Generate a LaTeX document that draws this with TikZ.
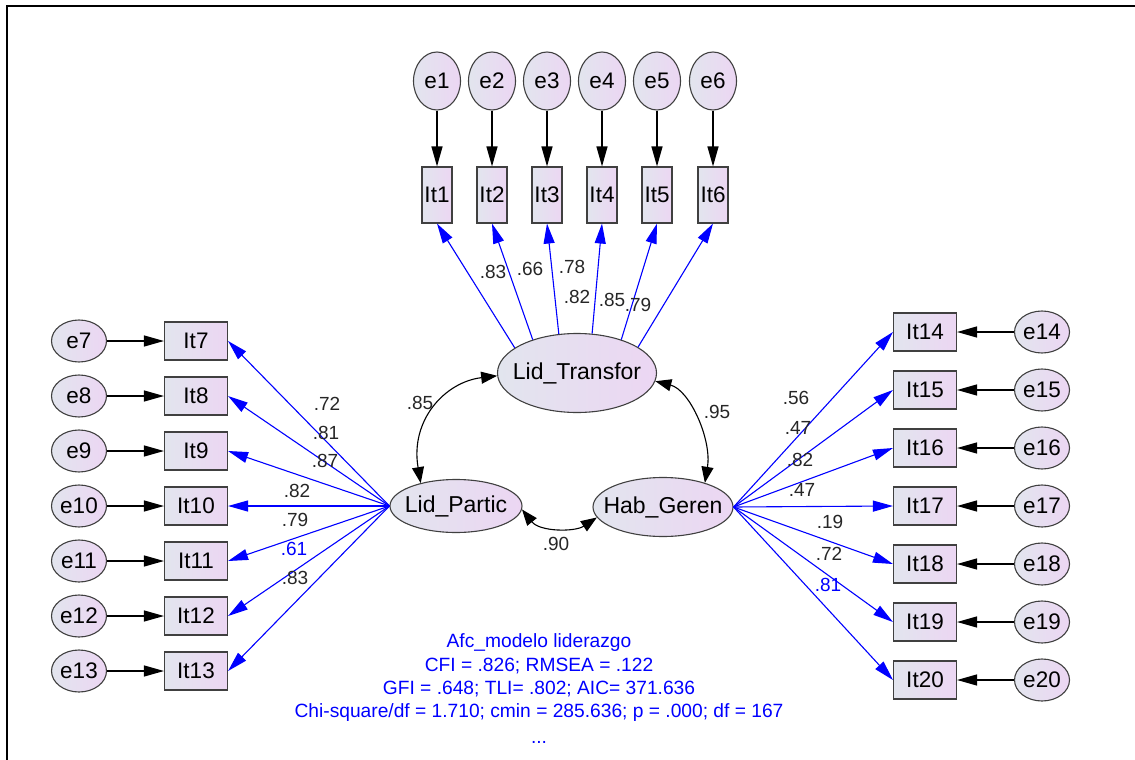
\documentclass[tikz,border=0pt]{standalone}
\usepackage{fontspec}
\setmainfont{Liberation Sans}
\usetikzlibrary{shapes.geometric,arrows.meta}
\definecolor{shL}{HTML}{E2E5EE}
\definecolor{shR}{HTML}{ECD6F3}
\definecolor{edgec}{HTML}{404040}
\begin{document}
\begin{tikzpicture}[x=1pt,y=-1pt,
  shaded/.style={draw=edgec, line width=1.1pt, left color=shL, right color=shR, inner sep=0pt, font=\fontsize{22.5}{26}\selectfont},
  errv/.style={shaded, ellipse, minimum width=47pt, minimum height=58pt},
  errh/.style={shaded, ellipse, minimum width=55pt, minimum height=42pt},
  itv/.style={shaded, rectangle, minimum width=30pt, minimum height=56pt},
  ith/.style={shaded, rectangle, minimum width=63pt, minimum height=38pt},
  lat/.style={shaded, ellipse, font=\fontsize{23}{26}\selectfont},
  reg/.style={draw=black, line width=1.2pt, -{Triangle[length=20pt,width=11pt]}},
  load/.style={draw=blue, line width=1.1pt, -{Triangle[length=20pt,width=11pt]}},
  cov/.style={draw=black, line width=1.1pt, {Triangle[length=16pt,width=12pt]}-{Triangle[length=16pt,width=12pt]}},
  num/.style={font=\fontsize{19}{21}\selectfont, inner sep=0pt, text=black!85},
  info/.style={font=\fontsize{19.2}{24}\selectfont, text=blue, anchor=base, inner sep=0pt}
]
\useasboundingbox (0,0) rectangle (1135,760);
\draw[line width=2.5pt] (7,760) -- (7,6) -- (1135,6);

% top indicators
\foreach \i/\x in {1/437,2/492,3/547,4/602,5/657,6/713} {
  \node[errv] (e\i) at (\x,81) {e\i};
  \node[itv] (it\i) at (\x,195) {It\i};
}
% left indicators
\foreach \i/\y in {7/341,8/396,9/451,10/506,11/561,12/616,13/671} {
  \node[errh] (e\i) at (79,\y) {e\i};
  \node[ith] (it\i) at (196,\y) {It\i};
}
% right indicators
\foreach \i/\y in {14/332,15/390,16/448,17/506,18/564,19/622,20/680} {
  \node[ith] (it\i) at (925,\y) {It\i};
  \node[errh] (e\i) at (1042,\y) {e\i};
}

% latent variables
\node[lat, minimum width=159pt, minimum height=79pt] (LT) at (577,373) {\makebox[0pt]{Lid\_Transfor}};
\node[lat, minimum width=132pt, minimum height=53pt] (LP) at (456,506) {\makebox[0pt]{Lid\_Partic}};
\node[lat, minimum width=140pt, minimum height=59pt] (HG) at (663,507) {\makebox[0pt]{Hab\_Geren}};

% error arrows
\foreach \i in {1,...,6} \draw[reg] (e\i.south) -- (it\i.north);
\foreach \i in {7,...,13} \draw[reg] (e\i.east) -- (it\i.west);
\foreach \i in {14,...,20} \draw[reg] (e\i.west) -- (it\i.east);

% loadings
\foreach \i/\a in {1/158,2/143,3/115,4/69,5/37,6/23} \draw[load] (LT.\a) -- (it\i.south);
\foreach \i in {7,...,13} \draw[load] (LP.west) -- (it\i.east);
\foreach \i in {14,...,20} \draw[load] (HG.east) -- (it\i.west);

% covariances
\draw[cov] (LP.147) .. controls (410,420) and (445,382) .. (LT.182);
\draw[cov] (LT.-6) .. controls (690,390) and (712,440) .. (HG.30);
\draw[cov] (LP.-3) .. controls (540,532) and (575,532) .. (HG.189);

% loading labels
\node[num] (n1) at (493,272) {.83};
\node[num] (n2) at (530,269) {.66};
\node[num] (n3) at (572,267) {.78};
\node[num] (n4) at (577,297) {.82};
\node[num] (n5) at (612,300) {.85};
\node[num] (n6) at (638,305) {.79};
\node[num] (n7) at (327,404) {.72};
\node[num] (n8) at (326,433) {.81};
\node[num] (n9) at (325,461) {.87};
\node[num] (n10) at (297,491) {.82};
\node[num] (n11) at (295,520) {.79};
\node[num, text=blue] (n12) at (294,549) {.61};
\node[num] (n13) at (295,578) {.83};
\node[num] (n14) at (796,398) {.56};
\node[num] (n15) at (798,428) {.47};
\node[num] (n16) at (800,460) {.82};
\node[num] (n17) at (802,490) {.47};
\node[num] (n18) at (830,522) {.19};
\node[num] (n19) at (829,554) {.72};
\node[num, text=blue] (n20) at (828,585) {.81};
\node[num] (c1) at (420,403) {.85};
\node[num] (c2) at (717,412) {.95};
\node[num] (c3) at (556,544) {.90};

% fit information
\node[info] (t1) at (539,647) {Afc\_modelo liderazgo};
\node[info] (t2) at (539,671) {CFI = .826; RMSEA = .122};
\node[info] (t3) at (539,694) {GFI = .648; TLI= .802; AIC= 371.636};
\node[info] (t4) at (539,717) {Chi-square/df = 1.710; cmin = 285.636; p = .000; df = 167};
\node[info] (t5) at (539,743) {...};
\end{tikzpicture}
\end{document}
